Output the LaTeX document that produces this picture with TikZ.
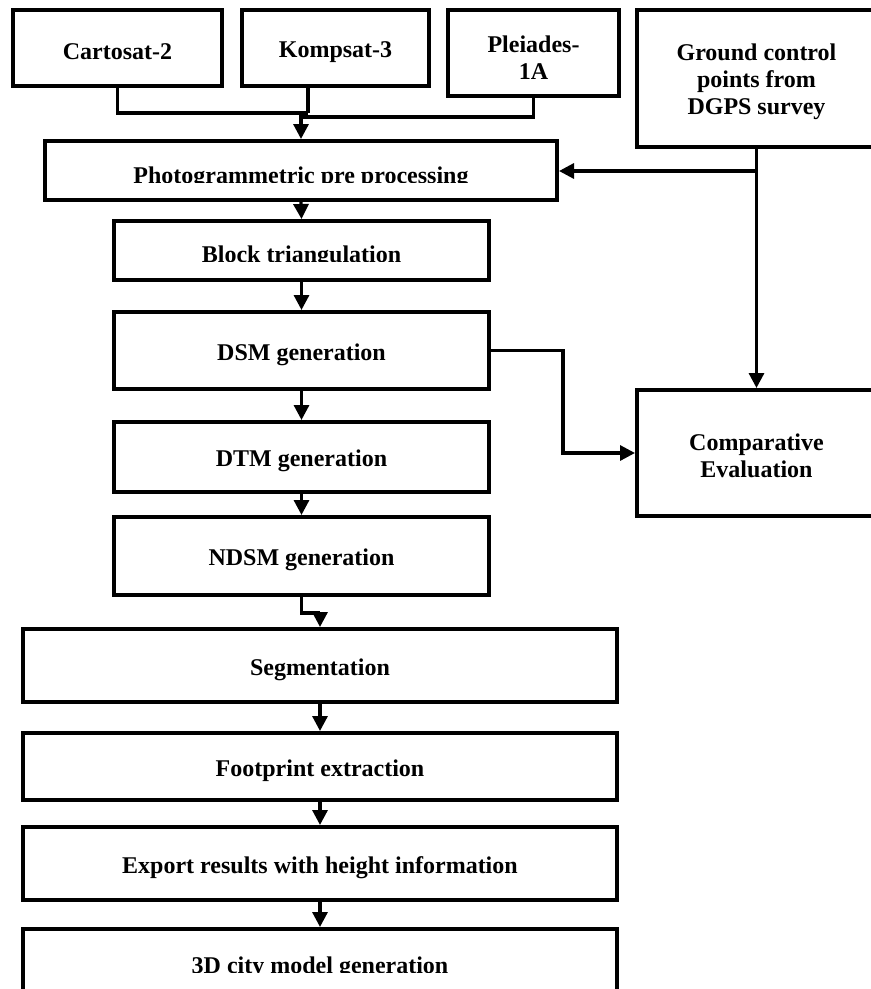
\documentclass[tikz,border=0pt]{standalone}
\usepackage{fontspec}
\setmainfont{Liberation Serif}
\usetikzlibrary{arrows.meta}
\begin{document}
\begin{tikzpicture}[x=1pt,y=-1pt,
  box/.style={draw=black, line width=4pt, inner sep=0pt},
  txt/.style={inner sep=0pt, align=center, font=\bfseries\fontsize{24}{27}\selectfont},
  conn/.style={draw=black, line width=3.2pt},
  arr/.style={conn, -{Triangle[length=15pt,width=15pt]}}]
\useasboundingbox (0,0) rectangle (871,989);
% top sources
\node[box, minimum width=209pt, minimum height=76pt] (cart) at (117.5,48) {};
\node[box, minimum width=187pt, minimum height=76pt] (komp) at (335.5,48) {};
\node[box, minimum width=171pt, minimum height=86pt] (plei) at (533.5,53) {};
\node[box, minimum width=239pt, minimum height=137pt] (gcp) at (756.5,78.5) {};
% main chain
\node[box, minimum width=512pt, minimum height=59pt] (photo) at (301,170.5) {};
\node[box, minimum width=375pt, minimum height=59pt] (block) at (301.5,250.5) {};
\node[box, minimum width=375pt, minimum height=77pt] (dsm) at (301.5,350.5) {};
\node[box, minimum width=375pt, minimum height=70pt] (dtm) at (301.5,457) {};
\node[box, minimum width=375pt, minimum height=78pt] (ndsm) at (301.5,556) {};
\node[box, minimum width=594pt, minimum height=73pt] (seg) at (320,665.5) {};
\node[box, minimum width=594pt, minimum height=67pt] (foot) at (320,766.5) {};
\node[box, minimum width=594pt, minimum height=73pt] (exp) at (320,863.5) {};
\node[box, minimum width=594pt, minimum height=90pt] (city) at (320,974) {};
\node[box, minimum width=239pt, minimum height=126pt] (comp) at (756.5,453) {};
% texts
\node[txt] (cartT) at ([yshift=-4pt]cart.center) {Cartosat-2};
\node[txt] (kompT) at ([yshift=-4pt]komp.center) {Kompsat-3};
\node[txt] (pleiT) at ([yshift=-5pt]plei.center) {Pleiades-\\1A};
\node[txt] (gcpT) at ([yshift=-3pt]gcp.center) {Ground control\\points from\\DGPS survey};
\node[txt] (dsmT) at ([yshift=-4pt]dsm.center) {DSM generation};
\node[txt] (dtmT) at ([yshift=-4pt]dtm.center) {DTM generation};
\node[txt] (ndsmT) at ([yshift=-4pt]ndsm.center) {NDSM generation};
\node[txt] (segT) at ([yshift=-4pt]seg.center) {Segmentation};
\node[txt] (footT) at ([yshift=-4pt]foot.center) {Footprint extraction};
\node[txt] (expT) at ([yshift=-4.5pt]exp.center) {Export results with height information};
\node[txt] (compT) at ([yshift=-3pt]comp.center) {Comparative\\Evaluation};
% clipped texts
\begin{scope}
\clip (45,141) rectangle (557,182.5);
\node[txt, anchor=base] (photoT) at (301,183.5) {Photogrammetric pre processing};
\end{scope}
\begin{scope}
\clip (114,221) rectangle (489,261);
\node[txt, anchor=base] (blockT) at (301.5,262) {Block triangulation};
\end{scope}
\begin{scope}
\clip (23,929) rectangle (617,972);
\node[txt, anchor=base] (cityT) at (320,973.5) {3D city model generation};
\end{scope}
% connectors from sources
\coordinate (k) at (308,113);
\coordinate (p) at (301,117);
\draw[conn] (cart.south) |- (k);
\draw[conn] (k |- komp.south) -- (k);
\draw[conn] (plei.south) |- (p);
\draw[arr] (301,112) -- (photo.north);
\coordinate (g) at (756.5,171);
\draw[arr] (g) -- (photo.east |- g);
\draw[arr] (gcp.south) -- (comp.north);
% chain
\draw[arr] (photo.south) -- (block.north);
\draw[arr] (block.south) -- (dsm.north);
\draw[arr] (dsm.south) -- (dtm.north);
\draw[arr] (dtm.south) -- (ndsm.north);
\coordinate (n) at (301.5,613);
\draw[arr] (ndsm.south) -- (n) -| (seg.north);
\draw[arr] (seg.south) -- (foot.north);
\draw[arr] (foot.south) -- (exp.north);
\draw[arr] (exp.south) -- (city.north);
\coordinate (d) at (563,350.5);
\draw[arr] (dsm.east) -- (d) |- (comp.west);
\end{tikzpicture}
\end{document}
